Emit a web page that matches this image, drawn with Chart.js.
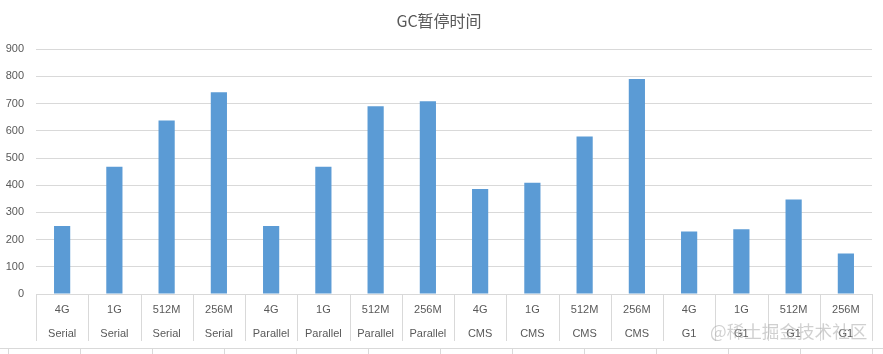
<!DOCTYPE html>
<html>
<head>
<meta charset="utf-8">
<script src="https://cdn.jsdelivr.net/npm/chart.js@4/dist/chart.umd.min.js"></script>
<style>
  html, body { margin: 0; padding: 0; background: #fff; }
  #wrap { position: relative; width: 883px; height: 354px; overflow: hidden; }
  #sheet {
    position: absolute; left: 0; top: 348px; width: 883px; height: 6px;
    border-top: 1px solid #d9d9d9;
    background: repeating-linear-gradient(to right, transparent 0 8px, #d9d9d9 8px 9px, transparent 9px 72px);
  }
  #mark {
    position: absolute; left: 710px; top: 318px;
    font: 17.6px "Noto Sans CJK SC", sans-serif; color: rgba(170,170,170,0.55);
    white-space: nowrap;
  }
</style>
</head>
<body>
<div id="wrap">
  <canvas id="chart" width="883" height="354"></canvas>
  <div id="sheet"></div>
  <div id="mark">@稀土掘金技术社区</div>
</div>
<script>
// ========================== DATA ==========================
const heapSizes = ["4G", "1G", "512M", "256M", "4G", "1G", "512M", "256M",
                   "4G", "1G", "512M", "256M", "4G", "1G", "512M", "256M"];
const collectors = ["Serial", "Serial", "Serial", "Serial",
                    "Parallel", "Parallel", "Parallel", "Parallel",
                    "CMS", "CMS", "CMS", "CMS",
                    "G1", "G1", "G1", "G1"];
const pauseTimes = [250, 468, 638, 742, 250, 468, 690, 709,
                    386, 409, 579, 790, 230, 238, 347, 149];
const yTicks = [0, 100, 200, 300, 400, 500, 600, 700, 800, 900];

const labels = heapSizes.map((h, i) => [h, collectors[i]]);

// ========================== SEPARATORS ==========================
// vertical lines between categories under the axis, like Excel
const separators = {
  id: "separators",
  afterDraw(chart) {
    const x = chart.scales.x;
    const ctx = chart.ctx;
    const step = x.width / labels.length;
    ctx.save();
    ctx.strokeStyle = "#d9d9d9";
    ctx.lineWidth = 1;
    ctx.beginPath();
    for (let i = 0; i <= labels.length; i++) {
      const px = Math.round(x.left + i * step) + 0.5;
      ctx.moveTo(px, x.top);
      ctx.lineTo(px, x.top + 47);
    }
    ctx.stroke();
    ctx.restore();
  }
};

// ========================== CHART ==========================
new Chart(document.getElementById("chart"), {
  type: "bar",
  data: {
    labels,
    datasets: [{
      label: "GC暂停时间",
      data: pauseTimes,
      backgroundColor: "#5b9bd5",
      barPercentage: 1,
      categoryPercentage: 0.31
    }]
  },
  options: {
    responsive: false,
    animation: false,
    layout: { padding: { left: 6, right: 11, top: 0, bottom: 0 } },
    plugins: {
      legend: { display: false },
      tooltip: { enabled: false },
      title: {
        display: true,
        text: "GC暂停时间",
        color: "#595959",
        font: { family: "'Noto Sans CJK SC', sans-serif", size: 16, weight: "normal" },
        padding: { top: 11, bottom: 19 }
      }
    },
    scales: {
      x: {
        afterFit(axis) { axis.height = 60; },
        grid: { display: false, drawTicks: false },
        border: { display: true, color: "#d9d9d9" },
        ticks: {
          color: "#595959",
          font: { family: "'Liberation Sans', sans-serif", size: 11, lineHeight: 2.2 },
          padding: 4,
          maxRotation: 0,
          autoSkip: false
        }
      },
      y: {
        min: 0,
        max: yTicks[yTicks.length - 1],
        afterBuildTicks(axis) { axis.ticks = yTicks.map(v => ({ value: v })); },
        afterFit(axis) { axis.width = 30; },
        grid: { color: "#d9d9d9", drawTicks: false },
        border: { display: false },
        ticks: {
          color: "#595959",
          font: { family: "'Liberation Sans', sans-serif", size: 11 },
          padding: 12
        }
      }
    }
  },
  plugins: [separators]
});
</script>
</body>
</html>
